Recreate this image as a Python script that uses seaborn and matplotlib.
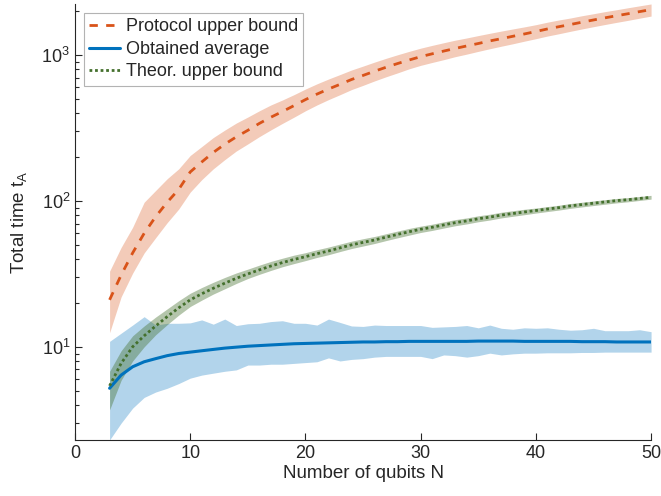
import numpy as np
import pandas as pd
import matplotlib
matplotlib.use('Agg')
import matplotlib.pyplot as plt
import seaborn as sns

# number of qubits
N = list(range(3, 51))

# protocol upper bound (orange, dashed) with its band
protocol = [21, 31, 44, 60, 78, 98, 120, 158, 185, 215, 245, 275, 305, 340, 375, 410,
            450, 495, 540, 585, 630, 680, 725, 775, 825, 875, 925, 975, 1020, 1065, 1110,
            1155, 1200, 1250, 1295, 1345, 1395, 1450, 1510, 1565, 1620, 1680, 1740, 1800,
            1860, 1920, 1985, 2050]
protocol_hi = [33, 48, 66, 98, 118, 142, 166, 205, 236, 272, 306, 342, 376, 415, 455, 492,
               535, 585, 635, 685, 735, 790, 840, 895, 950, 1005, 1060, 1115, 1165, 1215, 1265,
               1310, 1360, 1410, 1460, 1510, 1560, 1615, 1680, 1740, 1795, 1860, 1920, 1985,
               2045, 2110, 2175, 2240]
protocol_lo = [12.5, 22, 32, 44, 56, 71, 88, 115, 140, 166, 192, 220, 246, 276, 307, 340,
               375, 415, 455, 495, 535, 580, 620, 665, 710, 755, 805, 850, 890, 930, 975,
               1015, 1060, 1105, 1150, 1195, 1245, 1295, 1350, 1400, 1455, 1510, 1565, 1620,
               1675, 1730, 1790, 1850]

# obtained average (blue, solid) with its band
obtained = [5.2, 6.4, 7.3, 7.9, 8.3, 8.7, 9.0, 9.2, 9.4, 9.6, 9.8, 9.95, 10.1, 10.2, 10.3,
            10.4, 10.5, 10.55, 10.6, 10.65, 10.7, 10.75, 10.8, 10.8, 10.85, 10.85, 10.9, 10.9,
            10.9, 10.9, 10.9, 10.9, 10.95, 10.95, 10.95, 10.95, 10.9, 10.9, 10.9, 10.9, 10.9,
            10.85, 10.85, 10.85, 10.8, 10.8, 10.8, 10.8]
obtained_hi = [10.9, 12.4, 14.1, 16.1, 14.1, 14.5, 14.5, 14.6, 15.3, 14.3, 15.5, 14.0, 14.4,
               14.5, 14.9, 15.1, 14.5, 14.5, 14.1, 15.5, 14.7, 13.9, 13.8, 14.1, 14.0, 14.0,
               14.0, 14.0, 13.6, 13.7, 13.8, 14.0, 13.5, 14.1, 13.4, 13.2, 13.5, 13.4, 13.5,
               13.2, 13.0, 13.1, 13.4, 12.9, 12.9, 12.9, 13.1, 12.7]
obtained_lo = [2.3, 3.0, 3.8, 4.5, 4.9, 5.2, 5.6, 6.1, 6.4, 6.6, 6.8, 6.95, 7.5, 7.5, 7.6,
               7.6, 7.7, 7.8, 7.9, 8.4, 8.0, 8.2, 8.3, 8.5, 8.6, 8.6, 8.6, 8.6, 8.3, 8.8, 8.7,
               8.5, 8.7, 9.05, 8.8, 8.95, 9.05, 9.05, 9.1, 9.1, 9.1, 9.15, 9.15, 9.2, 9.2, 9.2,
               9.2, 9.2]

# theoretical upper bound (green, dotted) with its band
theor = [5.4, 7.7, 10.0, 11.9, 13.9, 16.1, 18.5, 21.0, 23.1, 25.2, 27.3, 29.5, 31.6, 33.7,
         35.8, 37.8, 39.7, 41.5, 43.5, 45.4, 47.7, 50.0, 52.0, 54.0, 56.5, 59.0, 61.5, 64.0,
         66.0, 68.5, 71.0, 73.0, 75.5, 77.5, 80.0, 82.0, 84.0, 86.0, 88.0, 90.0, 92.5, 94.5,
         96.5, 98.5, 100.5, 102.0, 104.0, 106.0]
theor_hi = [6.8, 9.4, 11.9, 13.9, 16.0, 18.2, 20.7, 23.3, 25.5, 27.7, 29.9, 32.1, 34.1, 36.3,
            38.5, 40.5, 42.5, 44.2, 46.3, 48.3, 50.6, 53.0, 55.1, 57.1, 59.6, 62.2, 64.8, 67.2,
            69.3, 71.9, 74.5, 76.5, 79.1, 81.1, 83.7, 85.7, 87.7, 89.4, 91.5, 93.5, 96.0, 98.0,
            100.0, 102.0, 104.0, 105.4, 107.3, 109.2]
theor_lo = [3.7, 5.9, 8.0, 10.0, 12.1, 14.2, 16.5, 18.9, 20.9, 23.0, 25.0, 27.2, 29.4, 31.4,
            33.4, 35.4, 37.2, 39.0, 41.0, 42.8, 45.0, 47.2, 49.1, 51.1, 53.5, 55.9, 58.3, 60.8,
            62.8, 65.2, 67.6, 69.6, 72.0, 74.0, 76.5, 78.5, 80.5, 82.6, 84.6, 86.6, 89.0, 91.0,
            93.0, 95.0, 97.0, 98.7, 100.8, 102.9]

orange = '#D95319'
blue = '#0072BD'
green = '#44702D'

sns.set_style('ticks')
plt.rcParams['font.family'] = ['Liberation Sans', 'DejaVu Sans']
plt.rcParams['mathtext.fontset'] = 'custom'
plt.rcParams['mathtext.rm'] = 'Liberation Sans'
plt.rcParams['xtick.direction'] = 'in'
plt.rcParams['ytick.direction'] = 'in'

df = pd.DataFrame({'N': N, 'protocol': protocol, 'obtained': obtained, 'theor': theor})

fig, ax = plt.subplots(figsize=(6.61, 4.96), dpi=100)
fig.subplots_adjust(left=0.1135, right=0.985, bottom=0.113, top=0.992)

ax.fill_between(N, protocol_lo, protocol_hi, color=orange, alpha=0.3, lw=0)
ax.fill_between(N, obtained_lo, obtained_hi, color=blue, alpha=0.3, lw=0)
ax.fill_between(N, theor_lo, theor_hi, color=green, alpha=0.4, lw=0)

sns.lineplot(data=df, x='N', y='protocol', ax=ax, color=orange, lw=2,
             linestyle=(0, (3, 3)), label='Protocol upper bound')
sns.lineplot(data=df, x='N', y='obtained', ax=ax, color=blue, lw=2.2,
             label='Obtained average')
sns.lineplot(data=df, x='N', y='theor', ax=ax, color=green, lw=2,
             linestyle=(0, (1, 1)), label='Theor. upper bound')

ax.set_yscale('log')
ax.set_xlim(0, 50)
ax.set_ylim(min(obtained_lo), max(protocol_hi))
ax.set_xticks([0, 10, 20, 30, 40, 50])
ax.set_xlabel('Number of qubits N', fontsize=13.5, color='#262626', labelpad=2)
ax.set_ylabel(r'Total time t$_\mathregular{A}$', fontsize=13.5, color='#262626', labelpad=8)
ax.tick_params(axis='both', which='major', labelsize=13, length=5, width=0.8,
               colors='#262626')
ax.tick_params(axis='y', which='minor', length=3, width=0.8, colors='#262626')
sns.despine(ax=ax)
for s in ['left', 'bottom']:
    ax.spines[s].set_color('#262626')
    ax.spines[s].set_linewidth(0.8)

leg = ax.legend(loc='upper left', fontsize=13, frameon=True, fancybox=False,
                edgecolor='#A0A0A0', handlelength=1.7, handletextpad=0.3,
                borderpad=0.3, labelspacing=0.3, borderaxespad=0.5)
leg.get_frame().set_linewidth(0.8)

plt.savefig('out.png', dpi=100)
